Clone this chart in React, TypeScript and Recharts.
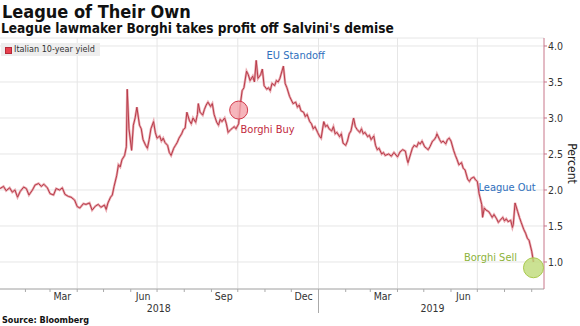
import { LineChart, Line, XAxis, YAxis, CartesianGrid, ReferenceLine, ReferenceDot } from 'recharts';

const FONT = "'DejaVu Sans Condensed', 'DejaVu Sans', sans-serif";

// days since 2018-01-01
const dayOffsets = [
  2, 6, 9, 13, 16, 19, 22, 25, 29, 32, 35, 39, 42, 46, 49, 52, 56, 59, 63, 66,
  70, 73, 76, 80, 83, 87, 90, 93, 97, 100, 104, 107, 111, 114, 117, 121, 123, 125, 128, 130,
  132, 135, 137, 139, 141, 144, 146, 147, 149, 152, 154, 156, 158,
  161, 163, 165, 168, 170, 172, 174, 177, 179, 181, 184, 186, 188, 190, 193, 195, 197, 200, 202, 204,
  206, 209, 211, 213, 215, 218, 220, 222, 225, 227, 228, 230, 233, 235, 237, 239, 242, 244, 246, 249,
  251, 253, 255, 258, 260, 262, 265, 267, 269, 271, 274,
  276, 278, 280, 283, 285, 287, 290, 292, 294, 296, 299, 301, 303, 306, 308, 310, 312, 315, 317, 319,
  321, 325, 327, 329, 332, 334, 336, 339, 341, 343, 345, 348, 350, 352, 355, 357, 359, 361, 364, 366,
  368, 371, 373, 375, 377, 380, 382, 384, 386, 389, 391, 393, 396, 398, 400, 402, 405, 407, 409, 412,
  414, 416, 418, 421, 423, 425, 428, 430, 432, 434, 437, 439, 441, 445, 448, 451, 455, 458,
  461, 464, 466, 467, 470, 472, 474, 477, 479, 481, 483, 486, 488, 490, 492, 495, 497, 499, 500, 503,
  505, 507, 510, 512, 514, 516, 519, 521, 523, 525, 528, 530, 532, 535, 537, 539, 542, 544, 546, 548,
  551, 552, 554, 556, 559, 561, 563, 565, 568, 570, 572, 575, 577, 579, 581, 584, 586, 587, 589, 592,
  594, 596, 599, 601, 603, 605, 608, 610,
];

const yields = [
  2.02, 2.05, 1.99, 2.03, 1.97, 2.0, 1.9, 1.98, 2.04, 2.02, 1.93, 2.0, 2.07, 2.09, 2.05, 2.08, 2.03, 1.95, 1.93, 2.02,
  2.0, 2.03, 1.94, 1.91, 1.9, 1.86, 1.77, 1.75, 1.81, 1.8, 1.82, 1.72, 1.78, 1.8, 1.76, 1.79, 1.73, 1.82, 1.9, 1.93,
  2.05, 2.2, 2.35, 2.32, 2.42, 2.48, 2.6, 3.4, 2.85, 2.55, 2.9, 3.0, 3.15,
  2.9, 2.85, 2.7, 2.62, 2.58, 2.7, 2.85, 2.95, 2.8, 2.72, 2.75, 2.68, 2.72, 2.66, 2.62, 2.52, 2.48, 2.58, 2.62, 2.66,
  2.72, 2.78, 2.84, 2.86, 3.08, 2.96, 2.92, 3.0, 2.94, 3.05, 3.2, 3.08, 3.04, 3.12, 3.18, 3.22, 3.16, 3.2, 3.05, 2.94,
  2.9, 2.98, 2.95, 3.0, 2.92, 2.8, 2.84, 2.86, 2.88, 2.85, 2.92,
  3.2, 3.38, 3.42, 3.65, 3.6, 3.52, 3.58, 3.5, 3.8, 3.55, 3.6, 3.68, 3.45, 3.4, 3.42, 3.38, 3.48, 3.45, 3.52, 3.5,
  3.55, 3.72, 3.48, 3.42, 3.3, 3.25, 3.2, 3.22, 3.15, 3.18, 3.1, 3.08, 3.02, 3.05, 2.95, 2.92, 2.85, 2.88, 2.8, 2.75,
  2.72, 2.95, 2.88, 2.9, 2.85, 2.82, 2.88, 2.78, 2.8, 2.74, 2.78, 2.65, 2.62, 2.68, 2.78, 2.82, 3.0, 2.88, 2.84, 2.8,
  2.85, 2.78, 2.8, 2.74, 2.76, 2.7, 2.75, 2.62, 2.56, 2.58, 2.5, 2.52, 2.48, 2.5, 2.47, 2.52, 2.46, 2.53,
  2.56, 2.54, 2.42, 2.38, 2.5, 2.58, 2.62, 2.6, 2.66, 2.64, 2.68, 2.6, 2.58, 2.56, 2.6, 2.68, 2.7, 2.74, 2.78, 2.7,
  2.66, 2.68, 2.64, 2.7, 2.72, 2.68, 2.55, 2.48, 2.42, 2.35, 2.38, 2.3, 2.28, 2.15, 2.12, 2.16, 2.18, 2.14, 2.12, 1.95,
  1.8, 1.62, 1.75, 1.72, 1.7, 1.66, 1.62, 1.66, 1.6, 1.55, 1.58, 1.62, 1.57, 1.6, 1.56, 1.58, 1.48, 1.52, 1.82, 1.7,
  1.62, 1.55, 1.45, 1.4, 1.33, 1.3, 1.15, 1.0,
];

const monthStarts = [31, 59, 90, 120, 151, 181, 212, 243, 273, 304, 334, 365, 396, 424, 455, 485, 516, 546, 577, 608];
const quarterStarts = [90, 181, 273, 365, 455, 546];
const monthLabels = ['Mar', 'Jun', 'Sep', 'Dec', 'Mar', 'Jun'];
const monthLabelDays = [73, 165, 257, 348, 438, 530];
const yearLabels = ['2018', '2019'];
const yearLabelDays = [183, 495];
const yTicks = [1, 1.5, 2, 2.5, 3, 3.5, 4];

const tradeDays = [274, 610];
const tradeYields = [3.11, 0.92];
const tradeFills = ['#f4a2aa', '#bedb78'];
const tradeStrokes = ['#d23a4b', '#a9c94c'];

const noteLabels = ['EU Standoff', 'League Out', 'Borghi Buy', 'Borghi Sell'];
const noteDays = [339, 580, 307, 561];
const noteYields = [3.875, 2.04, 2.85, 1.07];
const noteColors = ['#2f6fbd', '#2f6fbd', '#c22a40', '#8db33a'];

const data = dayOffsets.map((d, i) => ({ d, v: yields[i] }));
const xTicks = [...monthStarts, ...monthLabelDays, ...yearLabelDays].sort((a, b) => a - b);

function XTick({ x, y, payload }: any) {
  const v = payload.value;
  const m = monthLabelDays.indexOf(v);
  if (m >= 0) {
    return (
      <text x={x} y={y + 11} textAnchor="middle" fontSize={10.5} fill="#333" fontFamily={FONT}>
        {monthLabels[m]}
      </text>
    );
  }
  const yr = yearLabelDays.indexOf(v);
  if (yr >= 0) {
    return (
      <text x={x} y={y + 23} textAnchor="middle" fontSize={10.5} fill="#333" fontFamily={FONT}>
        {yearLabels[yr]}
      </text>
    );
  }
  return <line x1={x} x2={x} y1={y} y2={y + (v === 365 ? 24 : 3)} stroke="#aaa" />;
}

export default function App() {
  return (
    <div style={{ position: 'absolute', left: 0, top: 0, width: 580, height: 326, background: '#fff', fontFamily: FONT, overflow: 'hidden' }}>
      <div style={{ position: 'absolute', left: 0, top: 0 }}>
        <LineChart width={580} height={326} data={data} margin={{ top: 38, right: 0, bottom: 0, left: 0 }}>
          <CartesianGrid vertical={false} stroke="#e6e6e6" />
          {quarterStarts.map((q) => (
            <ReferenceLine key={q} x={q} stroke="#e6e6e6" />
          ))}
          <XAxis
            dataKey="d"
            type="number"
            domain={[2, 622]}
            ticks={xTicks}
            interval={0}
            tick={(p: any) => <XTick {...p} />}
            tickLine={false}
            tickSize={0}
            tickMargin={0}
            height={37}
            stroke="#aaa"
            allowDataOverflow
          />
          <YAxis
            orientation="right"
            domain={[0.625, 4.111]}
            ticks={yTicks}
            width={36}
            allowDataOverflow
            tickFormatter={(v: number) => v.toFixed(1)}
            tick={{ fontSize: 10.5, fill: '#333', fontFamily: FONT }}
            tickSize={3}
            tickMargin={1}
            axisLine={{ stroke: '#c8768a' }}
            tickLine={{ stroke: '#c8768a' }}
            label={{ value: 'Percent', angle: 90, position: 'center', dx: 10, fontSize: 12, fill: '#222', fontFamily: FONT }}
          />
          <Line dataKey="v" type="linear" stroke="#eaa9b0" strokeWidth={2.4} dot={false} isAnimationActive={false} />
          <Line dataKey="v" type="linear" stroke="#b73c4a" strokeWidth={1} dot={false} isAnimationActive={false} />
          {tradeDays.map((d, i) => (
            <ReferenceDot key={'t' + d} x={d} y={tradeYields[i]} r={i === 0 ? 9 : 10} fill={tradeFills[i]} fillOpacity={0.8} stroke={tradeStrokes[i]} strokeWidth={1} />
          ))}
          {noteLabels.map((t, i) => (
            <ReferenceDot
              key={t}
              x={noteDays[i]}
              y={noteYields[i]}
              r={1}
              fill="none"
              stroke="none"
              label={{ value: t, position: 'center', fill: noteColors[i], fontSize: 11, fontFamily: FONT }}
            />
          ))}
        </LineChart>
      </div>
      <div style={{ position: 'absolute', left: 2, top: 2, fontSize: 18, lineHeight: '20px', fontWeight: 'bold', color: '#111', whiteSpace: 'nowrap' }}>
        League of Their Own
      </div>
      <div style={{ position: 'absolute', left: 1, top: 20, fontSize: 13.6, lineHeight: '16px', fontWeight: 'bold', color: '#111', whiteSpace: 'nowrap' }}>
        League lawmaker Borghi takes profit off Salvini's demise
      </div>
      <div style={{ position: 'absolute', left: 1, top: 43, width: 99, height: 13, background: '#eeeeee' }}>
        <div style={{ position: 'absolute', left: 4, top: 4, width: 5, height: 5, background: '#e8404e', border: '1px solid #b52a38' }} />
        <div style={{ position: 'absolute', left: 13, top: 0, fontSize: 9, lineHeight: '13px', color: '#333', whiteSpace: 'nowrap' }}>
          Italian 10-year yield
        </div>
      </div>
      <div style={{ position: 'absolute', left: 2, top: 315, fontSize: 9, lineHeight: '11px', fontWeight: 'bold', color: '#111', whiteSpace: 'nowrap' }}>
        Source: Bloomberg
      </div>
    </div>
  );
}
